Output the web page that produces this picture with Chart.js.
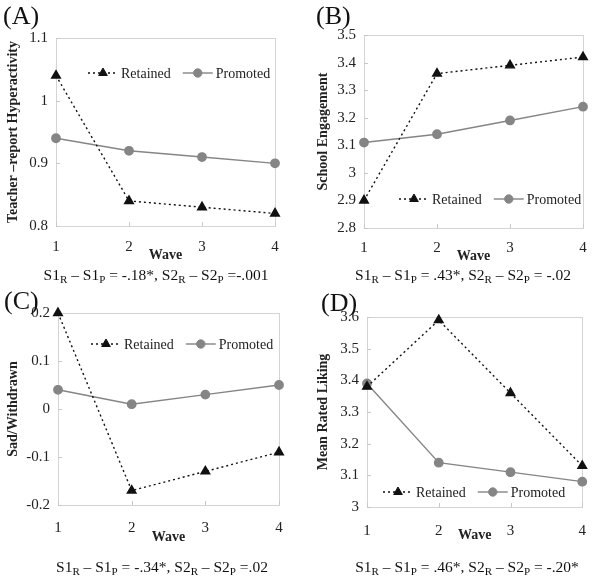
<!DOCTYPE html>
<html><head><meta charset="utf-8">
<script src="https://cdn.jsdelivr.net/npm/chart.js@4"></script>
<style>
html,body{margin:0;padding:0;background:#fff;}
body{width:601px;height:582px;position:relative;overflow:hidden;font-family:"Liberation Serif","Times New Roman",serif;}
.pan{position:absolute;}
.lab{position:absolute;font-size:26px;color:#111;line-height:1;}
.f{position:absolute;font-size:15.5px;color:#111;white-space:nowrap;transform:translateX(-50%);line-height:1;}
.f sub{font-size:11px;vertical-align:-3px;line-height:0;}
</style></head><body>
<div class="pan" style="left:0;top:0;width:300px;height:290px"><canvas id="cA"></canvas></div>
<div class="pan" style="left:300px;top:0;width:301px;height:290px"><canvas id="cB"></canvas></div>
<div class="pan" style="left:0;top:290px;width:300px;height:292px"><canvas id="cC"></canvas></div>
<div class="pan" style="left:300px;top:290px;width:301px;height:292px"><canvas id="cD"></canvas></div>
<div class="lab" style="left:3px;top:3px">(A)</div>
<div class="lab" style="left:316px;top:3px">(B)</div>
<div class="lab" style="left:4px;top:288px">(C)</div>
<div class="lab" style="left:321px;top:290px">(D)</div>
<div class="f" style="left:156px;top:267px">S1<sub>R</sub> – S1<sub>P</sub> = -.18*, S2<sub>R</sub> – S2<sub>P</sub> =-.001</div>
<div class="f" style="left:463px;top:267px">S1<sub>R</sub> – S1<sub>P</sub> = .43*, S2<sub>R</sub> – S2<sub>P</sub> = -.02</div>
<div class="f" style="left:162px;top:559px">S1<sub>R</sub> – S1<sub>P</sub> = -.34*, S2<sub>R</sub> – S2<sub>P</sub> =.02</div>
<div class="f" style="left:467px;top:559px">S1<sub>R</sub> – S1<sub>P</sub> = .46*, S2<sub>R</sub> – S2<sub>P</sub> = -.20*</div>
<script>
const waves = ['1','2','3','4'];
const seriesNames = ['Retained','Promoted'];
// Panel A: Teacher-report Hyperactivity
const hyperRetained = [1.04, 0.84, 0.83, 0.82];
const hyperPromoted = [0.94, 0.92, 0.91, 0.90];
// Panel B: School Engagement
const engageRetained = [2.90, 3.36, 3.39, 3.42];
const engagePromoted = [3.11, 3.14, 3.19, 3.24];
// Panel C: Sad/Withdrawn
const sadRetained = [0.20, -0.17, -0.13, -0.09];
const sadPromoted = [0.04, 0.01, 0.03, 0.05];
// Panel D: Mean Rated Liking
const likeRetained = [3.38, 3.59, 3.36, 3.13];
const likePromoted = [3.39, 3.14, 3.11, 3.08];

const SERIF = '"Liberation Serif","Times New Roman",serif';

const boxPlugin = {
  id:'box',
  beforeDatasetsDraw(chart){
    const {ctx, chartArea:a, scales} = chart;
    ctx.save();
    ctx.strokeStyle = '#d4d4d4';
    ctx.lineWidth = 1;
    ctx.strokeRect(Math.round(a.left)+0.5, Math.round(a.top)+0.5, Math.round(a.right-a.left), Math.round(a.bottom-a.top));
    ctx.strokeStyle = '#c8c8c8';
    ctx.beginPath();
    scales.y.ticks.forEach(t=>{
      const y = Math.round(scales.y.getPixelForValue(t.value))+0.5;
      ctx.moveTo(a.left, y); ctx.lineTo(a.left+4, y);
    });
    for(let i=0;i<waves.length;i++){
      const x = Math.round(scales.x.getPixelForValue(i))+0.5;
      ctx.moveTo(x, a.bottom); ctx.lineTo(x, a.bottom-4);
    }
    ctx.stroke();
    ctx.restore();
  }
};

const legendPlugin = {
  id:'inlegend',
  afterDraw(chart, args, opts){
    const ctx = chart.ctx;
    const ds = chart.data.datasets;
    let x = opts.x; const y = opts.y;
    ctx.save();
    ctx.font = '14px ' + SERIF;
    ctx.textBaseline = 'middle';
    ds.forEach((d, i)=>{
      const segLen = 30;
      ctx.beginPath();
      ctx.strokeStyle = d.borderColor;
      ctx.lineWidth = d.borderWidth;
      ctx.setLineDash(d.borderDash || []);
      ctx.moveTo(x, y); ctx.lineTo(x+segLen, y);
      ctx.stroke();
      ctx.setLineDash([]);
      ctx.fillStyle = d.pointBackgroundColor;
      ctx.strokeStyle = d.pointBorderColor;
      ctx.lineWidth = 1;
      Chart.helpers.drawPoint(ctx, {pointStyle:d.pointStyle, radius:d.pointRadius, borderWidth:1, rotation:0}, x+segLen/2, y);
      ctx.fillStyle = '#222';
      ctx.textAlign = 'left';
      ctx.fillText(d.label, x+segLen+3, y+1);
      x += segLen + 3 + ctx.measureText(d.label).width + 12;
    });
    ctx.restore();
  }
};

function makeChart(id, retained, promoted, cfg){
  const ctx = document.getElementById(id);
  return new Chart(ctx, {
    type:'line',
    data:{
      labels: waves,
      datasets:[
        {label:seriesNames[0], data:retained, borderColor:'#111', backgroundColor:'#111', pointBackgroundColor:'#111', pointBorderColor:'#111',
         borderWidth:1.4, borderDash:[2,3], pointStyle:'triangle', pointRadius:5, tension:0, clip:false},
        {label:seriesNames[1], data:promoted, borderColor:'#858585', backgroundColor:'#858585', pointBackgroundColor:'#858585', pointBorderColor:'#858585',
         borderWidth:1.4, pointStyle:'circle', pointRadius:4.2, tension:0, clip:false}
      ]
    },
    options:{
      responsive:true, maintainAspectRatio:false, animation:false,
      layout:{padding:{left:0, right:cfg.padRight, top:cfg.padTop, bottom:0}},
      plugins:{legend:{display:false}, tooltip:{enabled:false}, inlegend:{x:cfg.legX, y:cfg.legY}},
      scales:{
        x:{
          offset:false,
          grid:{display:false, drawTicks:false},
          border:{display:false},
          ticks:{color:'#222', font:{family:SERIF, size:15}, padding:cfg.xTickPad, maxRotation:0},
          title:{display:true, text:'Wave', color:'#222', font:{family:SERIF, size:14, weight:'bold'}, padding:{top:0,bottom:cfg.wavePad}},
          afterFit(s){ s.height = cfg.xHeight; }
        },
        y:{
          min:cfg.min, max:cfg.max,
          grid:{display:false, drawTicks:false},
          border:{display:false},
          ticks:{stepSize:0.1, color:'#222', font:{family:SERIF, size:15}, padding:8,
                 callback:(v)=>String(parseFloat(Number(v).toFixed(2)))},
          title:{display:true, text:cfg.yTitle, color:'#222', font:{family:SERIF, size:cfg.yTitleSize||13, weight:'bold'}, padding:{top:cfg.yTitlePad, bottom:0}},
          afterFit(s){ s.width = cfg.yWidth; }
        }
      }
    },
    plugins:[boxPlugin, legendPlugin]
  });
}

makeChart('cA', hyperRetained, hyperPromoted, {min:0.8, max:1.1, yTitle:'Teacher –report Hyperactivity', yWidth:56, padRight:25, padTop:38, xHeight:64, xTickPad:12, wavePad:26, yTitlePad:5, yTitleSize:14, legX:88, legY:73});
makeChart('cB', engageRetained, engagePromoted, {min:2.8, max:3.5, yTitle:'School Engagement', yWidth:64, padRight:18, padTop:35, xHeight:62, xTickPad:11, wavePad:25, yTitlePad:15, yTitleSize:14, legX:99, legY:199});
makeChart('cC', sadRetained, sadPromoted, {min:-0.2, max:0.2, yTitle:'Sad/Withdrawn', yWidth:58, padRight:21, padTop:23, xHeight:77, xTickPad:14, wavePad:36, yTitlePad:5, yTitleSize:14, legX:91, legY:54});
makeChart('cD', likeRetained, likePromoted, {min:3.0, max:3.6, yTitle:'Mean Rated Liking', yWidth:67, padRight:10, padTop:27, xHeight:75, xTickPad:15, wavePad:38, yTitlePad:15, yTitleSize:14, legX:83, legY:202});
</script>
</body></html>
